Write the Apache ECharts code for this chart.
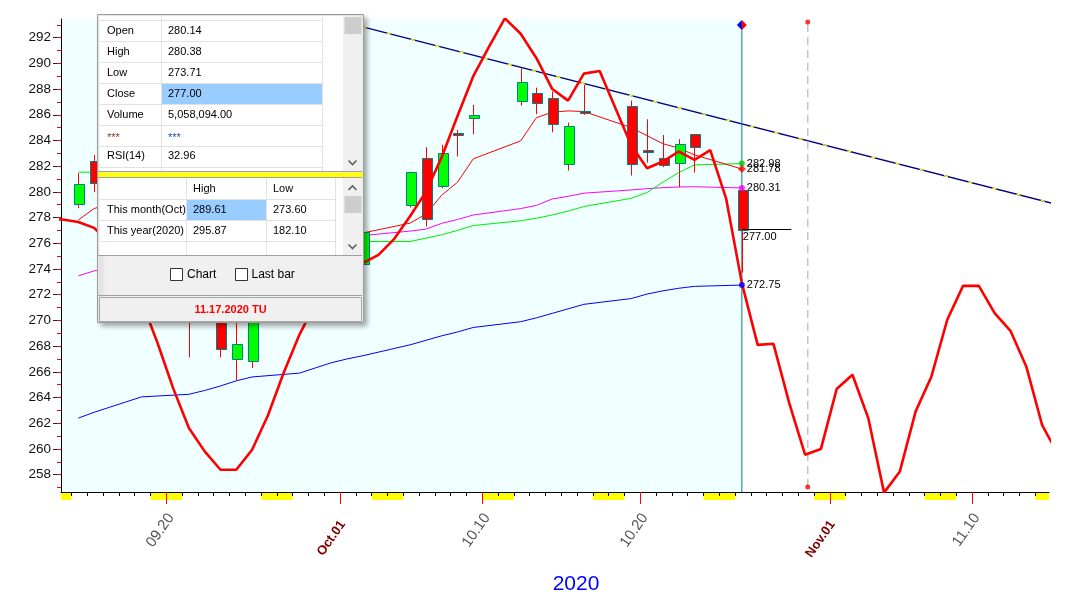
<!DOCTYPE html>
<html><head><meta charset="utf-8">
<script src="https://cdn.jsdelivr.net/npm/echarts/dist/echarts.min.js"></script>
<style>html,body{margin:0;padding:0;background:#fff}#c{width:1066px;height:596px}</style>
</head><body><div id="c"></div>
<script>
// ---------------- DATA ----------------
const tradingDates = ['2020-09-14','2020-09-15','2020-09-16','2020-09-17','2020-09-18','2020-09-21','2020-09-22','2020-09-23','2020-09-24','2020-09-25','2020-09-28','2020-09-29','2020-09-30','2020-10-01','2020-10-02','2020-10-05','2020-10-06','2020-10-07','2020-10-08','2020-10-09','2020-10-12','2020-10-13','2020-10-14','2020-10-15','2020-10-16','2020-10-19','2020-10-20','2020-10-21','2020-10-22','2020-10-23','2020-10-26'];
const openP  = [279.04,282.44,280.8,279.2,277.4,272.2,270.6,271.8,266.99,266.88,273.0,274.6,274.5,277.0,274.4,278.97,282.62,280.41,284.59,285.73,287.08,287.68,287.29,282.16,286.30,286.69,283.27,282.62,282.23,284.49,280.14];
const closeP = [280.60,280.76,279.5,277.6,274.6,270.3,272.0,267.79,268.16,272.0,274.5,273.9,275.6,275.7,276.9,281.53,277.90,283.01,284.41,285.99,288.53,286.90,285.27,285.13,286.12,282.16,283.09,282.08,283.71,283.48,277.00];
const lowP   = [278.73,279.98,279.0,277.0,273.9,267.12,270.0,267.12,265.33,266.29,272.6,273.2,273.9,273.6,274.0,278.78,277.30,280.29,282.75,284.49,286.71,286.04,284.64,281.66,285.99,281.27,282.28,281.92,280.37,281.50,273.71];
const highP  = [281.46,282.88,281.5,279.8,277.9,273.0,272.8,272.3,270.3,272.5,275.0,275.4,277.2,277.6,277.1,281.53,283.48,283.66,284.82,286.77,289.61,288.11,287.80,285.39,288.32,287.10,285.65,284.43,284.10,284.49,280.38];

const maBlue    = [262.40,262.85,263.25,263.65,264.05,264.25,264.55,264.9,265.3,265.6,265.9,266.3,266.7,267.0,267.25,268.1,268.45,268.8,269.1,269.45,269.9,270.2,270.55,270.9,271.25,271.7,272.05,272.3,272.5,272.65,272.75];
const maMagenta = [273.47,273.85,274.1,274.3,274.5,274.8,275.0,275.2,275.4,275.6,275.9,276.1,276.3,276.45,276.6,276.95,277.1,277.55,277.85,278.2,278.7,278.95,279.45,279.65,279.9,280.15,280.25,280.33,280.38,280.4,280.31];
const maGreen   = [281.53,281.53,281.4,280.7,280.0,279.0,278.3,277.6,277.0,276.6,276.3,276.1,276.0,276.05,276.14,276.14,276.4,276.66,277.0,277.38,277.75,277.95,278.2,278.5,278.86,279.5,279.95,280.75,281.5,282.1,282.2];
const maRed     = [277.82,278.7,279.1,278.6,277.6,276.2,274.8,273.2,272.0,271.6,272.0,272.8,273.8,275.2,276.8,277.57,278.27,279.74,280.75,282.57,283.97,285.78,286.2,286.3,286.25,285.0,284.37,283.75,283.4,282.88,281.78];

// thick red cycle line, one value per calendar day from cycleStart
const cycleStart = '2020-09-12';
const cycleValues = [277.9,277.85,277.65,277.2,276.0,274.0,271.5,268.3,264.73,261.63,259.81,258.38,258.38,259.94,262.6,265.93,268.9,271.3,272.8,
 273.8,274.45,275.1,276.35,278.1,280.0,282.7,285.9,289.0,291.3,293.5,292.3,290.4,288.0,287.1,289.2,289.4,286.5,283.6,281.84,282.36,283.14,282.49,283.25,279.5,272.9,268.1,268.18,263.57,259.55,259.99,
 264.66,265.77,262.4,256.6,258.25,262.92,265.64,270.05,272.69,272.69,270.57,269.19,266.42,261.88,259.6];

// trend line anchors [date, value]
const trendA = ['2020-10-02', 292.83];
const trendB = ['2020-11-15', 279.0];

const endLabelText = { green:'282.98', red:'281.78', magenta:'280.31', blue:'272.75' };
const lastCloseText = '277.00';
const cursorTopValue = 292.99;
const futureMarkDate = '2020-10-30';
const futureMarkTop = 293.22, futureMarkBottom = 257.03;

const xTickLabels = [['2020-09-20','09.20',0],['2020-10-01','Oct.01',1],['2020-10-10','10.10',0],['2020-10-20','10.20',0],['2020-11-01','Nov.01',1],['2020-11-10','11.10',0]];
const yTickLabels = [258,260,262,264,266,268,270,272,274,276,278,280,282,284,286,288,290,292];
const yMinorTicks = [257,258,259,260,261,262,263,264,265,266,267,268,269,270,271,272,273,274,275,276,277,278,279,280,281,282,283,284,285,286,287,288,289,290,291,292,293];
const yearText = '2020';

const detailRows = [['Open','280.14'],['High','280.38'],['Low','273.71'],['Close','277.00'],['Volume','5,058,094.00'],['***','***'],['RSI(14)','32.96']];
const rangeHeader = ['High','Low'];
const rangeRows = [['This month(Oct)','289.61','273.60'],['This year(2020)','295.87','182.10']];
const checkLabels = ['Chart','Last bar'];
const panelDate = '11.17.2020 TU';

// ---------------- HELPERS ----------------
const BASE = Date.UTC(2020, 8, 13);
function dayIdx(s){ const a = s.split('-').map(Number); return (Date.UTC(a[0],a[1]-1,a[2]) - BASE)/86400000; }
const C = 0.43;               // mark position inside a day slot
const X_MIN = 0.335, X_MAX = 62.87, Y_MIN = 256.65, Y_MAX = 293.45;
const FONT = '"Liberation Sans", Arial, sans-serif';

const tx = tradingDates.map(d => dayIdx(d) + C);
const xLast = tx[tx.length-1];
const cycleX0 = dayIdx(cycleStart);
const cycleData = cycleValues.map((v,i) => [cycleX0 + i + C, v]);
const candleData = tradingDates.map((d,i) => [tx[i], openP[i], closeP[i], lowP[i], highP[i]]);

// weekend blocks from the calendar
const weekends = [];
for (let k = -1; k <= 64; k++) {
  const dow = new Date(BASE + k*86400000).getUTCDay();
  if (dow === 6) weekends.push([k, k+2]);
}
const dayTicks = []; for (let k = 1; k <= 62; k++) dayTicks.push(k);
const majorIdx = xTickLabels.map(t => dayIdx(t[0]));
const labelMap = {}; xTickLabels.forEach(t => labelMap[dayIdx(t[0])] = t[1]);
const normalLabelPos = xTickLabels.filter(t => !t[2]).map(t => dayIdx(t[0]) + 0.3);
const boldLabelPos = xTickLabels.filter(t => t[2]).map(t => dayIdx(t[0]) + 0.17);

function lineSeries(vals, color, width, label) {
  return {
    type:'line', data: vals.map((v,i)=>[tx[i], v]), showSymbol:false, silent:true, z:4,
    lineStyle:{color, width}, itemStyle:{color},
    endLabel:{show:true, formatter:()=>label, color:'#000', fontSize:11, fontFamily:FONT, distance:5}
  };
}

// ---------------- PANEL ----------------
const P = [];
function R(x,y,w,h,fill,stroke,extra){ P.push(Object.assign({type:'rect', silent:true, z:100, shape:{x,y,width:w,height:h}, style:{fill:fill, stroke:stroke||null, lineWidth:1}}, extra||{})); }
function L(x1,y1,x2,y2,c,w){ P.push({type:'line', silent:true, z:101, shape:{x1,y1,x2,y2}, style:{stroke:c, lineWidth:w||1}}); }
function PL(pts,c){ P.push({type:'polyline', silent:true, z:101, shape:{points:pts}, style:{stroke:c, fill:null, lineWidth:1.6}}); }
function T(x,y,s,o){ P.push({type:'text', silent:true, z:102, x, y, style:Object.assign({text:s, font:'11px '+FONT, fill:'#000', textAlign:'left', align:'left', textVerticalAlign:'middle', verticalAlign:'middle'}, o||{})}); }

R(97.5, 14.5, 266, 308, '#f0f0f0', '#9c9c9c', {style:{fill:'#f0f0f0', stroke:'#9c9c9c', lineWidth:1, shadowBlur:5, shadowOffsetX:3, shadowOffsetY:3, shadowColor:'rgba(0,0,0,0.35)'}});
// upper table
R(99.5, 16, 244, 155, '#ffffff');
R(162, 84, 160, 20, '#99ccff');
[20.5,41.5,62.5,83.5,104.5,125.5,146.5,167.5].forEach(y => L(100, y, 322, y, '#e2e2e2'));
L(161.5, 16, 161.5, 171, '#e2e2e2'); L(322.5, 16, 322.5, 171, '#e2e2e2');
R(343, 16, 19, 155, '#f0f0f0'); R(344.5, 17, 17, 17, '#cdcdcd');
PL([[348.5,160.5],[352.5,164.5],[356.5,160.5]], '#606060');
detailRows.forEach((r,i) => {
  const y = 31 + i*20.9 + (r[0]==='***' ? 2 : 0);
  T(107, y, r[0], r[0]==='***' ? {fill:'#8b3a1a'} : {});
  T(168, y, r[1], r[1]==='***' ? {fill:'#1f4fa0'} : {});
});
// separator
L(98, 171.5, 362, 171.5, '#a0a0a0');
R(98, 172.5, 265, 4.5, '#ffff00');
L(98, 177.5, 362, 177.5, '#a0a0a0');
// lower table
R(99.5, 178, 244, 77, '#ffffff');
R(187, 200, 79, 20.5, '#99ccff');
[199.5,220.5,241.5].forEach(y => L(100, y, 335, y, '#e2e2e2'));
[186.5,266.5,335.5].forEach(x => L(x, 178, x, 255, '#e2e2e2'));
R(343, 178, 19, 77, '#f0f0f0'); R(344.5, 196, 17, 17, '#cdcdcd');
PL([[348.5,190],[352.5,186],[356.5,190]], '#606060');
PL([[348.5,244.5],[352.5,248.5],[356.5,244.5]], '#606060');
T(193, 189, rangeHeader[0]); T(273, 189, rangeHeader[1]);
rangeRows.forEach((r,i) => { const y = 210 + i*21; T(107, y, r[0]); T(193, y, r[1]); T(273, y, r[2]); });
L(98, 255.5, 362, 255.5, '#a0a0a0');
// checkboxes
R(170.5, 268.5, 12, 12, '#ffffff', '#333333'); T(187, 275, checkLabels[0], {font:'12px '+FONT});
R(235.5, 268.5, 12, 12, '#ffffff', '#333333'); T(251.5, 275, checkLabels[1], {font:'12px '+FONT});
L(98, 295.5, 362, 295.5, '#a0a0a0');
R(99.5, 297.5, 262, 24, '#f0f0f0', '#a8a8a8');
T(230.5, 310, panelDate, {font:'bold 11px '+FONT, fill:'#ff0000', textAlign:'center', align:'center'});
// year caption
P.push({type:'text', silent:true, z:50, x:576, y:584, style:{text:yearText, font:'21px '+FONT, fill:'#0000ff', textAlign:'center', align:'center', textVerticalAlign:'middle', verticalAlign:'middle'}});

// ---------------- CHART ----------------
const chart = echarts.init(document.getElementById('c'));
const xBase = {type:'value', min:X_MIN, max:X_MAX, position:'bottom', gridIndex:0, z:6, splitLine:{show:false}};
chart.setOption({
  animation:false,
  backgroundColor:'#ffffff',
  textStyle:{fontFamily:FONT},
  grid:{left:61, top:19, width:988, height:473, containLabel:false, outerBoundsMode:'none'},
  xAxis:[
    Object.assign({}, xBase, {
      axisLine:{show:true, lineStyle:{color:'#000', width:1}},
      axisTick:{show:true, customValues:dayTicks, length:4, lineStyle:{color:'#000'}},
      axisLabel:{show:true, customValues:normalLabelPos, rotate:55, margin:23, fontSize:15, color:'#555', fontFamily:FONT,
        formatter:v => labelMap[Math.round(v)] || ''}
    }),
    Object.assign({}, xBase, {
      axisLine:{show:false},
      axisTick:{show:true, customValues:majorIdx, length:12, lineStyle:{color:'#ff0000', width:1}},
      axisLabel:{show:true, customValues:boldLabelPos, rotate:55, margin:30, fontSize:13, fontWeight:'bold', color:'#800000', fontFamily:FONT,
        formatter:v => labelMap[Math.round(v)] || ''}
    })
  ],
  yAxis:[
    {type:'value', min:Y_MIN, max:Y_MAX, position:'left', z:6, splitLine:{show:false},
      axisLine:{show:true, lineStyle:{color:'#000', width:1}},
      axisTick:{show:true, customValues:yTickLabels, length:8, lineStyle:{color:'#222'}},
      axisLabel:{customValues:yTickLabels, fontSize:13.5, color:'#111', margin:10, fontFamily:FONT}},
    {type:'value', min:Y_MIN, max:Y_MAX, position:'left', z:7, splitLine:{show:false},
      axisLine:{show:false},
      axisTick:{show:true, customValues:yMinorTicks, length:4, lineStyle:{color:'#ff0000'}},
      axisLabel:{show:false}}
  ],
  graphic:{elements:P},
  series:[
    // cyan history background
    {type:'custom', z:0, silent:true, clip:true, data:[[X_MIN, xLast]],
      renderItem:(p, api) => { const a = api.coord([api.value(0), Y_MAX]), b = api.coord([api.value(1), Y_MIN]);
        return {type:'rect', shape:{x:a[0], y:a[1], width:b[0]-a[0], height:b[1]-a[1]}, style:{fill:'#f0ffff'}}; }},
    // weekend marks under the axis
    {type:'custom', z:1, silent:true, clip:false, data:weekends,
      renderItem:(p, api) => { const a = api.coord([Math.max(api.value(0), X_MIN), Y_MIN]), b = api.coord([Math.min(api.value(1), X_MAX), Y_MIN]);
        if (b[0] <= a[0]) return null;
        return {type:'rect', shape:{x:a[0], y:a[1]+0.5, width:b[0]-a[0], height:7.5}, style:{fill:'#ffff00'}}; }},
    // trend line
    {type:'line', silent:true, z:3, showSymbol:false, data:[[dayIdx(trendA[0])+C, trendA[1]],[dayIdx(trendB[0])+C, trendB[1]]], lineStyle:{color:'#000080', width:1.3}},
    {type:'line', silent:true, z:3, showSymbol:false, data:[[dayIdx(trendA[0])+C, trendA[1]],[dayIdx(trendB[0])+C, trendB[1]]], lineStyle:{color:'#ffff00', width:1.4, type:[4,21]}},
    // moving averages
    lineSeries(maBlue, '#0000ff', 1, endLabelText.blue),
    lineSeries(maMagenta, '#ff00ff', 1, endLabelText.magenta),
    lineSeries(maGreen, '#00ee00', 1, endLabelText.green),
    lineSeries(maRed, '#ff0000', 1, endLabelText.red),
    // candles
    {type:'custom', z:5, silent:true, data:candleData,
      renderItem:(p, api) => {
        const x = api.value(0), o = api.value(1), c = api.value(2), l = api.value(3), h = api.value(4);
        const pO = api.coord([x,o]), pC = api.coord([x,c]), pL = api.coord([x,l]), pH = api.coord([x,h]);
        const w = Math.round(api.size([1,0])[0]*0.64);
        const cx = Math.round(pO[0]) + 0.5;
        const top = Math.min(pO[1], pC[1]), bot = Math.max(pO[1], pC[1]);
        const up = c >= o;
        return {type:'group', children:[
          {type:'line', shape:{x1:cx, y1:pH[1], x2:cx, y2:pL[1]}, style:{stroke:'#ff0000', lineWidth:1}},
          {type:'rect', shape:{x:Math.round(cx - w/2)+0.5, y:Math.round(top)+0.5, width:w, height:Math.max(Math.round(bot-top), 2)},
            style:{fill: up ? '#00ff00' : '#ff0000', stroke:'#008080', lineWidth:1}}
        ]};
      }},
    // thick red cycle line
    {type:'line', silent:true, z:6, showSymbol:false, data:cycleData, lineStyle:{color:'#ff0000', width:2.6}},
    // cursor (last bar) vertical line
    {type:'line', silent:true, z:4, showSymbol:false, data:[[xLast, Y_MIN],[xLast, cursorTopValue]], lineStyle:{color:'#008080', width:1}},
    // future vertical dashed mark
    {type:'line', silent:true, z:4, showSymbol:false, data:[[dayIdx(futureMarkDate)+0.6, futureMarkBottom],[dayIdx(futureMarkDate)+0.6, futureMarkTop]],
      lineStyle:{color:'#c4c4c4', width:1.5, type:[8,5]}},
    {type:'scatter', silent:true, z:7, symbolSize:5, itemStyle:{color:'#ff0000'},
      data:[[dayIdx(futureMarkDate)+0.6, futureMarkBottom],[dayIdx(futureMarkDate)+0.6, futureMarkTop]]},
    // end dots
    {type:'scatter', silent:true, z:8, symbolSize:6,
      data:[
        {value:[xLast, maGreen[maGreen.length-1]], itemStyle:{color:'#00cc00'}},
        {value:[xLast, maRed[maRed.length-1]], itemStyle:{color:'#ff0000'}, symbol:'diamond', symbolSize:8},
        {value:[xLast, maMagenta[maMagenta.length-1]], itemStyle:{color:'#ff00ff'}},
        {value:[xLast, maBlue[maBlue.length-1]], itemStyle:{color:'#0000ff'}}
      ]},
    // close line and label, cursor diamond
    {type:'custom', z:8, silent:true, clip:false, data:[[xLast, closeP[closeP.length-1]]],
      renderItem:(p, api) => {
        const a = api.coord([api.value(0), api.value(1)]);
        const b = api.coord([api.value(0) + 3.13, api.value(1)]);
        const d = api.coord([api.value(0), cursorTopValue]);
        const y = Math.round(a[1]) - 0.5;
        return {type:'group', children:[
          {type:'line', shape:{x1:a[0], y1:y, x2:b[0], y2:y}, style:{stroke:'#000', lineWidth:1}},
          {type:'text', x:a[0]+1, y:y+2, style:{text:lastCloseText, font:'11px '+FONT, fill:'#000', align:'left', verticalAlign:'top', textAlign:'left', textVerticalAlign:'top'}},
          {type:'polygon', shape:{points:[[d[0],d[1]-5],[d[0],d[1]+5],[d[0]-5,d[1]]]}, style:{fill:'#0000ff'}},
          {type:'polygon', shape:{points:[[d[0],d[1]-5],[d[0],d[1]+5],[d[0]+5,d[1]]]}, style:{fill:'#ff0000'}}
        ]};
      }}
  ]
});
</script></body></html>
